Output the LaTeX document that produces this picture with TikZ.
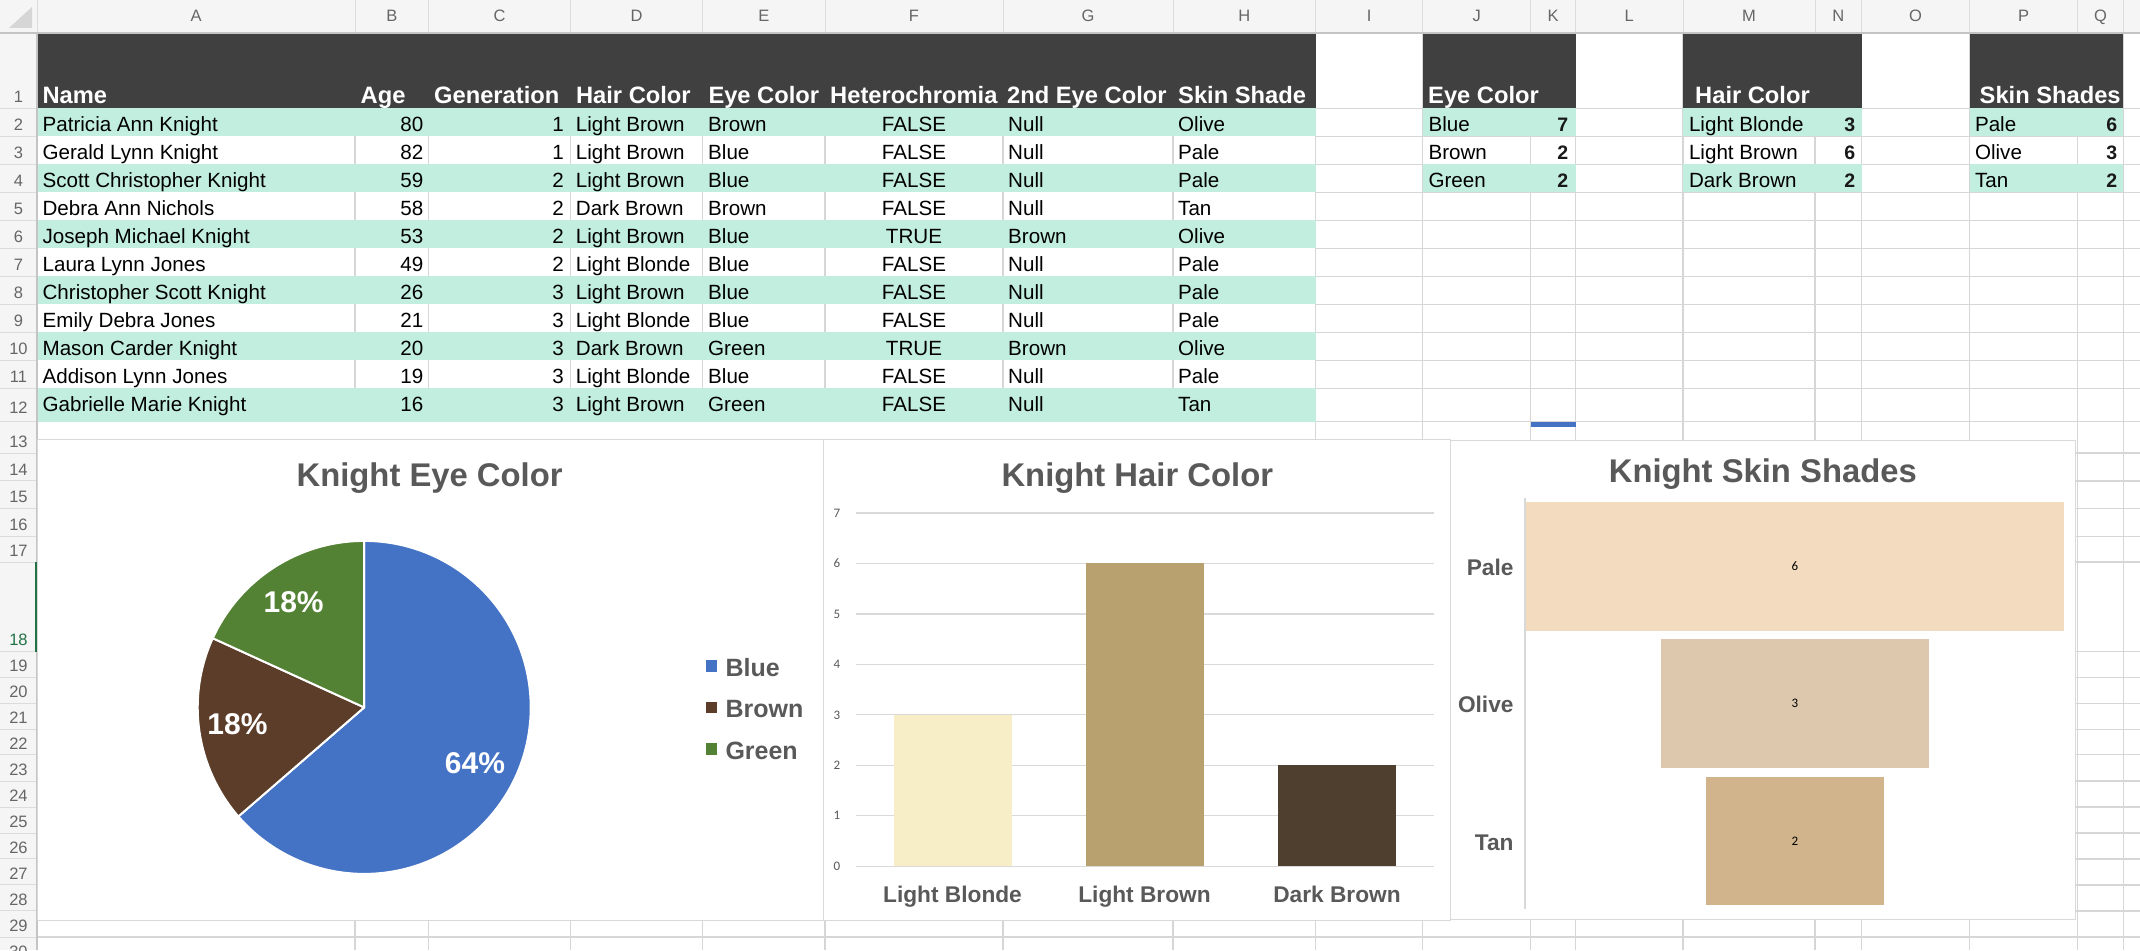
\documentclass[tikz,border=0pt]{standalone}
\usepackage{fontspec}
\setmainfont{Liberation Sans}
\newfontfamily\calfont{Carlito}
\definecolor{gridc}{HTML}{D6D6D6}
\definecolor{hdrbg}{HTML}{F5F5F5}
\definecolor{hdrline}{HTML}{C4C4C4}
\definecolor{hdrsep}{HTML}{DCDCDC}
\definecolor{hdrtext}{HTML}{666666}
\definecolor{darkhd}{HTML}{404040}
\definecolor{mint}{HTML}{C2EEE0}
\definecolor{charttext}{HTML}{595959}
\definecolor{chartline}{HTML}{D9D9D9}
\definecolor{pieblue}{HTML}{4472C4}
\definecolor{piebrown}{HTML}{5B3D29}
\definecolor{piegreen}{HTML}{548235}
\definecolor{hairblonde}{HTML}{F7EDC6}
\definecolor{hairlbrown}{HTML}{B9A16F}
\definecolor{hairdbrown}{HTML}{4F3F2F}
\definecolor{skinpale}{HTML}{F2DBBE}
\definecolor{skinolive}{HTML}{DDC8AE}
\definecolor{skintan}{HTML}{D2B48C}
\definecolor{xlgreen}{HTML}{217346}
\definecolor{selblue}{HTML}{4472C4}
\tikzset{
  gline/.style={draw=gridc,line width=1.5pt},
  dt/.style={inner sep=0pt,text=black,font=\fontsize{20.6}{24}\selectfont},
  hd/.style={inner sep=0pt,text=white,font=\bfseries\fontsize{23.7}{28}\selectfont},
  nm/.style={inner sep=0pt,text=black!90,font=\bfseries\fontsize{19.5}{23}\selectfont,anchor=base east},
  collab/.style={inner sep=0pt,text=hdrtext,font=\fontsize{16.5}{20}\selectfont,anchor=base},
  rowlab/.style={inner sep=0pt,text=hdrtext,font=\fontsize{16.5}{20}\selectfont,anchor=base},
  ctitle/.style={inner sep=0pt,text=charttext,font=\bfseries\fontsize{32.8}{38}\selectfont,anchor=base},
  pielab/.style={inner sep=0pt,text=white,font=\bfseries\fontsize{30}{34}\selectfont,anchor=base},
  leglab/.style={inner sep=0pt,text=charttext,font=\bfseries\fontsize{25}{30}\selectfont,anchor=base west},
  catlab/.style={inner sep=0pt,text=charttext,font=\bfseries\fontsize{22.7}{27}\selectfont},
  axlab/.style={inner sep=0pt,text=charttext,font=\calfont\fontsize{13}{15}\selectfont},
  vallab/.style={inner sep=0pt,text=black,font=\calfont\fontsize{13}{15}\selectfont},
  chartbox/.style={fill=white,draw=chartline,line width=1.5pt},
}
\newcommand{\knrow}[9]{%
  \pgfmathsetmacro{\knyb}{108.3+28*(#1-1)-4.6}%
  \node[dt,anchor=base west] (a#1) at (42.4,\knyb) {#2};
  \node[dt,anchor=base east] (b#1) at (423.5,\knyb) {#3};
  \node[dt,anchor=base east] (c#1) at (564,\knyb) {#4};
  \node[dt,anchor=base west] (d#1) at (575.7,\knyb) {#5};
  \node[dt,anchor=base west] (e#1) at (708,\knyb) {#6};
  \node[dt,anchor=base] (f#1) at (914,\knyb) {#7};
  \node[dt,anchor=base west] (g#1) at (1008,\knyb) {#8};
  \node[dt,anchor=base west] (h#1) at (1178,\knyb) {#9};
}
\begin{document}
\begin{tikzpicture}[x=1pt,y=-1pt]
\useasboundingbox (0,0) rectangle (2140,950);
\fill[white] (0,0) rectangle (2140,950);
% ---------- global sheet grid
\foreach \gx in {355,428.6,570.5,702.7,825,1003,1173,1315.7,1422.7,1530.7,1575.5,1683,1815,1861.5,1969.6,2077.6,2123.4}
  \draw[gline] (\gx,33) -- (\gx,950);
\foreach \gy in {108.3,136.3,164.3,192.3,220.3,248.3,276.3,304.3,332.3,360.3,388.3,421.7,453.1,480.9,508.6,536.6,562,651.6,677.6,703.3,729.3,754.7,781,807.1,833.1,858.8,884.8,910.9,937.2}
  \draw[gline] (37,\gy) -- (2140,\gy);
% ---------- main table area
\fill[white] (38,109.1) rectangle (1315,439);
\fill[darkhd] (37,33) rectangle (1315.7,108.3);
\foreach \ta/\tb in {108.3/136.3,164.3/192.3,220.3/248.3,276.3/304.3,332.3/360.3,388.3/421.7}
  \fill[mint] (37,\ta) rectangle (1315.7,\tb);
\foreach \ta/\tb in {136.3/164.3,192.3/220.3,248.3/276.3,304.3/332.3,360.3/388.3}
  \foreach \gx in {355,428.6,570.5,702.7,825,1003,1173,1315.7}
    \draw[gline] (\gx,\ta) -- (\gx,\tb);
% ---------- small tables
\foreach \xa/\xb in {1422.7/1575.5,1683/1861.5,1969.6/2123.4}{
  \fill[darkhd] (\xa,33) rectangle (\xb,108.3);
  \fill[mint] (\xa,108.3) rectangle (\xb,136.3);
  \fill[mint] (\xa,164.3) rectangle (\xb,192.3);
}
% ---------- column header
\fill[hdrbg] (0,0) rectangle (2140,33);
\foreach \gx in {37,355,428.6,570.5,702.7,825,1003,1173,1315.7,1422.7,1530.7,1575.5,1683,1815,1861.5,1969.6,2077.6,2123.4}
  \draw[hdrsep,line width=1pt] (\gx,0) -- (\gx,32);
\draw[hdrline,line width=2pt] (0,33) -- (2140,33);
\fill[hdrline!70] (32,7) -- (32,28) -- (9,28) -- cycle;
\foreach \cl/\cx in {A/196,B/391.8,C/499.6,D/636.6,E/763.9,F/914,G/1088,H/1244.4,I/1369.2,J/1476.7,K/1553.1,L/1629.3,M/1749,N/1838.3,O/1915.6,P/2023.6,Q/2100.5}
  \node[collab] (col\cl) at (\cx,22) {\cl};
% ---------- row header
\fill[hdrbg] (0,34) rectangle (37,950);
\foreach \gy in {108.3,136.3,164.3,192.3,220.3,248.3,276.3,304.3,332.3,360.3,388.3,421.7,453.1,480.9,508.6,536.6,562,651.6,677.6,703.3,729.3,754.7,781,807.1,833.1,858.8,884.8,910.9,937.2}
  \draw[hdrsep,line width=1pt] (0,\gy) -- (36,\gy);
\draw[hdrline,line width=2pt] (37,33) -- (37,950);
\foreach \rn/\rb in {1/108.3,2/136.3,3/164.3,4/192.3,5/220.3,6/248.3,7/276.3,8/304.3,9/332.3,10/360.3,11/388.3,12/419,13/453.1,14/480.9,15/508.6,16/536.6,17/562,19/677.6,20/703.3,21/729.3,22/754.7,23/781,24/807.1,25/833.1,26/858.8,27/884.8,28/910.9,29/937.2,30/963.2}
  \node[rowlab] (row\rn) at (18.5,{\rb-5.7}) {\rn};
\node[rowlab,text=xlgreen] (row18) at (18.5,645.9) {18};
\fill[xlgreen] (34.5,562) rectangle (38.5,651.6);
% ---------- header texts
\node[hd,anchor=base west] (hName) at (42.4,103.3) {Name};
\node[hd,anchor=base west] (hAge) at (360.5,103.3) {Age};
\node[hd,anchor=base west] (hGen) at (434,103.3) {Generation};
\node[hd,anchor=base west] (hHair) at (575.9,103.3) {Hair Color};
\node[hd,anchor=base west] (hEye) at (708.3,103.3) {Eye Color};
\node[hd,anchor=base west] (hHet) at (830,103.3) {Heterochromia};
\node[hd,anchor=base west] (hEye2) at (1007,103.3) {2nd Eye Color};
\node[hd,anchor=base west] (hSkin) at (1178,103.3) {Skin Shade};
\node[hd,anchor=base west] (sEye) at (1428,103.3) {Eye Color};
\node[hd,anchor=base west] (sHair) at (1695,103.3) {Hair Color};
\node[hd,anchor=base west] (sSkin) at (1979.5,103.3) {Skin Shades};
% ---------- data rows
\knrow{2}{Patricia Ann Knight}{80}{1}{Light Brown}{Brown}{FALSE}{Null}{Olive}
\knrow{3}{Gerald Lynn Knight}{82}{1}{Light Brown}{Blue}{FALSE}{Null}{Pale}
\knrow{4}{Scott Christopher Knight}{59}{2}{Light Brown}{Blue}{FALSE}{Null}{Pale}
\knrow{5}{Debra Ann Nichols}{58}{2}{Dark Brown}{Brown}{FALSE}{Null}{Tan}
\knrow{6}{Joseph Michael Knight}{53}{2}{Light Brown}{Blue}{TRUE}{Brown}{Olive}
\knrow{7}{Laura Lynn Jones}{49}{2}{Light Blonde}{Blue}{FALSE}{Null}{Pale}
\knrow{8}{Christopher Scott Knight}{26}{3}{Light Brown}{Blue}{FALSE}{Null}{Pale}
\knrow{9}{Emily Debra Jones}{21}{3}{Light Blonde}{Blue}{FALSE}{Null}{Pale}
\knrow{10}{Mason Carder Knight}{20}{3}{Dark Brown}{Green}{TRUE}{Brown}{Olive}
\knrow{11}{Addison Lynn Jones}{19}{3}{Light Blonde}{Blue}{FALSE}{Null}{Pale}
\knrow{12}{Gabrielle Marie Knight}{16}{3}{Light Brown}{Green}{FALSE}{Null}{Tan}
% ---------- small table data
\foreach \sr/\sy/\ea/\eb/\ha/\hb/\pa/\pb in {1/131.7/Blue/7/Light Blonde/3/Pale/6,2/159.7/Brown/2/Light Brown/6/Olive/3,3/187.7/Green/2/Dark Brown/2/Tan/2}{
  \node[dt,anchor=base west] (je\sr) at (1428.3,\sy) {\ea};
  \node[nm] (ke\sr) at (1568.5,\sy) {\eb};
  \node[dt,anchor=base west] (mh\sr) at (1688.8,\sy) {\ha};
  \node[nm] (nh\sr) at (1855.4,\sy) {\hb};
  \node[dt,anchor=base west] (ps\sr) at (1974.8,\sy) {\pa};
  \node[nm] (qs\sr) at (2117.3,\sy) {\pb};
}
% ---------- selection mark
\fill[selblue] (1531,421.5) rectangle (1575.5,426.5);
% ---------- chart boxes
\draw[chartbox] (37.5,439.3) rectangle (823.3,920.3);
\draw[chartbox] (823.3,439.3) rectangle (1450.3,920.3);
\draw[chartbox] (1450.3,440.3) rectangle (2075.3,919.7);
% ---------- chart 1: pie
\node[ctitle] (t1) at (429.6,486) {Knight Eye Color};
\coordinate (pc) at (364.2,707.4);
\filldraw[fill=pieblue,draw=white,line width=2pt,line join=round] (pc) -- ++(90:166.5pt) arc[start angle=90,end angle=-139.09,radius=166.5pt] -- cycle;
\filldraw[fill=piebrown,draw=white,line width=2pt,line join=round] (pc) -- ++(220.91:166.5pt) arc[start angle=220.91,end angle=155.45,radius=166.5pt] -- cycle;
\filldraw[fill=piegreen,draw=white,line width=2pt,line join=round] (pc) -- ++(155.45:166.5pt) arc[start angle=155.45,end angle=90,radius=166.5pt] -- cycle;
\node[pielab] (pg) at (293.6,612.7) {18\%};
\node[pielab] (pb) at (237.5,734.4) {18\%};
\node[pielab] (pbl) at (475,773.3) {64\%};
\fill[pieblue] (705.7,660) rectangle (717.3,671.8);
\fill[piebrown] (705.7,701.5) rectangle (717.3,713.3);
\fill[piegreen] (705.7,743) rectangle (717.3,754.8);
\node[leglab] (lg1) at (725.3,676) {Blue};
\node[leglab] (lg2) at (725.3,717.5) {Brown};
\node[leglab] (lg3) at (725.3,759) {Green};
% ---------- chart 2: bars
\node[ctitle] (t2) at (1137.3,486) {Knight Hair Color};
\foreach \k in {0,...,7}{
  \draw[draw=chartline,line width=1.3pt] (855.9,{866.2-50.46*\k}) -- (1433.5,{866.2-50.46*\k});
  \node[axlab] (yl\k) at (837,{866.2-50.46*\k}) {\k};
}
\fill[hairblonde] (893.5,866.2) rectangle (1011.5,{866.2-50.46*3});
\fill[hairlbrown] (1085.5,866.2) rectangle (1203.5,{866.2-50.46*6});
\fill[hairdbrown] (1278,866.2) rectangle (1396,{866.2-50.46*2});
\node[catlab,anchor=base] (hx1) at (952.5,902.8) {Light Blonde};
\node[catlab,anchor=base] (hx2) at (1144.5,902.8) {Light Brown};
\node[catlab,anchor=base] (hx3) at (1337,902.8) {Dark Brown};
% ---------- chart 3: funnel
\node[ctitle] (t3) at (1762.8,482.5) {Knight Skin Shades};
\draw[draw=chartline,line width=1.5pt] (1524.8,497.8) -- (1524.8,908.5);
\fill[skinpale] (1526.1,502.1) rectangle (2063.9,630.6);
\fill[skinolive] (1661.1,639) rectangle (1928.9,767.5);
\fill[skintan] (1705.9,777) rectangle (1884.1,905.1);
\node[vallab] (v1) at (1795,566.4) {6};
\node[vallab] (v2) at (1795,703.3) {3};
\node[vallab] (v3) at (1795,841) {2};
\node[catlab,anchor=base east] (s1) at (1513.7,575.5) {Pale};
\node[catlab,anchor=base east] (s2) at (1513.7,712.4) {Olive};
\node[catlab,anchor=base east] (s3) at (1513.7,850) {Tan};
\end{tikzpicture}
\end{document}
